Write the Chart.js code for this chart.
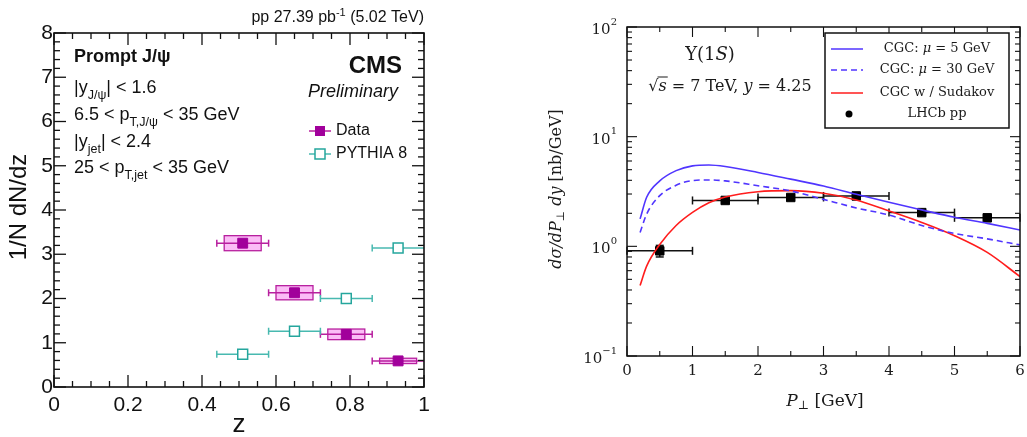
<!DOCTYPE html>
<html><head><meta charset="utf-8">
<script src="https://cdn.jsdelivr.net/npm/chart.js@4.4.1/dist/chart.umd.min.js"></script>
<style>
body{margin:0;background:#fff;width:1027px;height:437px;position:relative;overflow:hidden}
canvas{position:absolute;top:0}
#left{left:0}
#right{left:540px}
</style></head><body>
<canvas id="left" width="440" height="437"></canvas>
<canvas id="right" width="487" height="437"></canvas>
<script>
// left panel: prompt J/psi fragmentation
var zCenters = [0.51, 0.65, 0.79, 0.93];
var zLow = [0.44, 0.58, 0.72, 0.86];
var zHigh = [0.58, 0.72, 0.86, 1.0];
var dataVals = [3.25, 2.13, 1.19, 0.59];
var dataSys = [0.17, 0.16, 0.12, 0.06];
var sysHalfWidth = 0.05;
var pythiaVals = [0.74, 1.26, 2.0, 3.14];
var zTicks = [0, 0.2, 0.4, 0.6, 0.8, 1];

// right panel: Upsilon(1S) CGC vs LHCb
var ptCurve = [0.2, 0.3, 0.5, 0.75, 1, 1.25, 1.5, 2, 2.5, 3, 3.5, 4, 4.5, 5, 5.5, 6];
var cgc5 = [1.78, 2.8, 3.95, 4.9, 5.42, 5.52, 5.35, 4.72, 4.1, 3.55, 2.98, 2.52, 2.15, 1.84, 1.62, 1.41];
var cgc30 = [1.34, 1.97, 2.9, 3.6, 3.98, 4.03, 3.95, 3.57, 3.2, 2.68, 2.24, 1.93, 1.55, 1.31, 1.17, 1.03];
var sudakov = [0.44, 0.66, 1.04, 1.55, 2.04, 2.5, 2.82, 3.15, 3.22, 3.05, 2.65, 2.1, 1.65, 1.25, 0.88, 0.53];
var lhcbPt = [0.5, 1.5, 2.5, 3.5, 4.5, 5.5];
var lhcbLow = [0, 1, 2, 3, 4, 5];
var lhcbHigh = [1, 2, 3, 4, 5, 6];
var lhcbVals = [0.91, 2.62, 2.79, 2.88, 2.03, 1.82];
var lhcbErr = [0.11, 0.1, 0.1, 0.1, 0.1, 0.08];
var decades = [0.1, 1, 10, 100];
var decadeExp = ['\u22121', '0', '1', '2'];

var MAG = '#a1009b', MAGLINE = '#b8209f', MAGFILL = '#fbbdf6', TEAL = '#25a69d', TEALLINE = '#48b9b0';
var BLUE = '#5035ff', RED = '#ff1c1c';
var SANS = "'Liberation Sans', Arial, sans-serif";
var SERIF = "'DejaVu Serif', serif";

Chart.defaults.animation = false;

function runs(ctx, x, y, parts, align) {
  var w = 0;
  parts.forEach(function (p) { ctx.font = p[1]; w += ctx.measureText(p[0]).width; });
  var cx = align == 'right' ? x - w : (align == 'center' ? x - w / 2 : x);
  ctx.textAlign = 'left';
  parts.forEach(function (p) {
    ctx.font = p[1];
    ctx.fillText(p[0], cx, y + (p[2] || 0));
    cx += ctx.measureText(p[0]).width;
  });
  return w;
}

function line(ctx, x1, y1, x2, y2) {
  ctx.beginPath(); ctx.moveTo(x1, y1); ctx.lineTo(x2, y2); ctx.stroke();
}

function innerTicks(chart, xs, ys, len) {
  var ctx = chart.ctx, a = chart.chartArea, sx = chart.scales.x, sy = chart.scales.y;
  xs.forEach(function (t) {
    var p = sx.getPixelForValue(t[0]);
    line(ctx, p, a.bottom, p, a.bottom - len[t[1]]);
    line(ctx, p, a.top, p, a.top + len[t[1]]);
  });
  ys.forEach(function (t) {
    var p = sy.getPixelForValue(t[0]);
    line(ctx, a.left, p, a.left + len[t[1]], p);
    line(ctx, a.right, p, a.right - len[t[1]], p);
  });
}

// ---------------- left chart ----------------
var leftDecor = {
  id: 'leftDecor',
  beforeDatasetsDraw: function (chart) {
    var ctx = chart.ctx, sx = chart.scales.x, sy = chart.scales.y, a = chart.chartArea;
    ctx.save();
    ctx.beginPath(); ctx.rect(a.left, a.top, a.right - a.left, a.bottom - a.top); ctx.clip();
    // systematic boxes
    for (var i = 0; i < zCenters.length; i++) {
      var x1 = sx.getPixelForValue(zCenters[i] - sysHalfWidth), x2 = sx.getPixelForValue(zCenters[i] + sysHalfWidth);
      var y1 = sy.getPixelForValue(dataVals[i] + dataSys[i]), y2 = sy.getPixelForValue(dataVals[i] - dataSys[i]);
      ctx.fillStyle = MAGFILL; ctx.fillRect(x1, y1, x2 - x1, y2 - y1);
      ctx.strokeStyle = MAGLINE; ctx.lineWidth = 1.3; ctx.strokeRect(x1, y1, x2 - x1, y2 - y1);
    }
    // horizontal bin bars
    function bars(vals, col) {
      ctx.strokeStyle = col; ctx.lineWidth = 1.5;
      for (var i = 0; i < vals.length; i++) {
        var xl = sx.getPixelForValue(zLow[i]), xh = sx.getPixelForValue(zHigh[i]), py = sy.getPixelForValue(vals[i]);
        line(ctx, xl, py, xh, py);
        line(ctx, xl, py - 3.5, xl, py + 3.5);
        if (zHigh[i] < 1) line(ctx, xh, py - 3.5, xh, py + 3.5);
      }
    }
    bars(dataVals, MAGLINE);
    bars(pythiaVals, TEALLINE);
    ctx.restore();
  },
  afterDraw: function (chart) {
    var ctx = chart.ctx, a = chart.chartArea;
    ctx.save();
    ctx.strokeStyle = '#111'; ctx.lineWidth = 1.6;
    ctx.strokeRect(a.left, a.top, a.right - a.left, a.bottom - a.top);
    var xs = [], ys = [];
    for (var i = 0; i <= 20; i++) xs.push([i * 0.05, i % 4 == 0 ? 0 : 1]);
    for (var j = 0; j <= 40; j++) ys.push([j * 0.2, j % 5 == 0 ? 0 : 1]);
    ctx.lineWidth = 1.3;
    innerTicks(chart, xs, ys, [12, 6]);

    ctx.fillStyle = '#111'; ctx.textBaseline = 'alphabetic';
    var f = '18px ' + SANS, s = '12.5px ' + SANS;
    runs(ctx, 424, 22, [['pp 27.39 pb', '16px ' + SANS], ['-1', '11px ' + SANS, -6], [' (5.02 TeV)', '16px ' + SANS]], 'right');
    runs(ctx, 74, 62, [['Prompt J/\u03c8', 'bold 18px ' + SANS]], 'left');
    runs(ctx, 74, 93, [['|y', f], ['J/\u03c8', s, 6], ['| < 1.6', f]], 'left');
    runs(ctx, 74, 120, [['6.5 < p', f], ['T,J/\u03c8', s, 6], [' < 35 GeV', f]], 'left');
    runs(ctx, 74, 147, [['|y', f], ['jet', s, 6], ['| < 2.4', f]], 'left');
    runs(ctx, 74, 173, [['25 < p', f], ['T,jet', s, 6], [' < 35 GeV', f]], 'left');
    runs(ctx, 402, 73, [['CMS', 'bold 24px ' + SANS]], 'right');
    runs(ctx, 398, 97, [['Preliminary', 'italic 18px ' + SANS]], 'right');

    // legend
    ctx.lineWidth = 1.5;
    ctx.strokeStyle = MAGLINE; line(ctx, 309, 131, 331, 131);
    ctx.fillStyle = MAG; ctx.fillRect(315, 126, 10, 10);
    ctx.strokeStyle = TEALLINE; line(ctx, 309, 154, 331, 154);
    ctx.fillStyle = '#fff'; ctx.fillRect(315, 149, 10, 10);
    ctx.strokeStyle = TEAL; ctx.strokeRect(315, 149, 10, 10);
    ctx.fillStyle = '#111'; ctx.textBaseline = 'middle';
    runs(ctx, 336, 131, [['Data', '16px ' + SANS]], 'left');
    runs(ctx, 336, 154, [['PYTHIA 8', '16px ' + SANS]], 'left');

    // axis titles
    runs(ctx, 239, 425, [['z', '26px ' + SANS]], 'center');
    ctx.translate(19, 207); ctx.rotate(-Math.PI / 2);
    runs(ctx, 0, 0, [['1/N dN/dz', '24px ' + SANS]], 'center');
    ctx.restore();
  }
};

new Chart(document.getElementById('left'), {
  type: 'scatter',
  data: {
    datasets: [{
      label: 'Data',
      data: zCenters.map(function (z, i) { return {x: z, y: dataVals[i]}; }),
      pointStyle: 'rect', pointRadius: 7, backgroundColor: MAG, borderColor: MAG, borderWidth: 1
    }, {
      label: 'PYTHIA 8',
      data: zCenters.map(function (z, i) { return {x: z, y: pythiaVals[i]}; }),
      pointStyle: 'rect', pointRadius: 7, backgroundColor: '#fff', borderColor: TEAL, borderWidth: 1.5
    }]
  },
  options: {
    responsive: false, devicePixelRatio: 1,
    layout: {padding: {top: 33, right: 16, left: 0, bottom: 0}},
    plugins: {legend: {display: false}, tooltip: {enabled: false}},
    scales: {
      x: {
        type: 'linear', min: 0, max: 1,
        afterBuildTicks: function (s) { s.ticks = zTicks.map(function (v) { return {value: v}; }); },
        ticks: {font: {family: SANS, size: 21}, color: '#111', padding: 6, maxRotation: 0,
          callback: function (v) { return String(+v.toFixed(1)); }},
        grid: {display: false, drawTicks: false}, border: {display: false},
        afterFit: function (s) { s.height = 50; s.paddingLeft = 0; s.paddingRight = 0; }
      },
      y: {
        min: 0, max: 8,
        ticks: {stepSize: 1, font: {family: SANS, size: 21}, color: '#111', padding: 1},
        grid: {display: false, drawTicks: false}, border: {display: false},
        afterFit: function (s) { s.width = 54; s.paddingTop = 0; s.paddingBottom = 0; }
      }
    }
  },
  plugins: [leftDecor]
});

// ---------------- right chart ----------------
var rightDecor = {
  id: 'rightDecor',
  beforeDatasetsDraw: function (chart) {
    var ctx = chart.ctx, sx = chart.scales.x, sy = chart.scales.y;
    ctx.save();
    ctx.strokeStyle = '#111'; ctx.lineWidth = 1.5;
    for (var i = 0; i < lhcbPt.length; i++) {
      var xl = sx.getPixelForValue(lhcbLow[i]), xh = sx.getPixelForValue(lhcbHigh[i]);
      var px = sx.getPixelForValue(lhcbPt[i]), py = sy.getPixelForValue(lhcbVals[i]);
      line(ctx, xl, py, xh, py);
      line(ctx, xl, py - 4, xl, py + 4);
      line(ctx, xh, py - 4, xh, py + 4);
      var yt = sy.getPixelForValue(lhcbVals[i] + lhcbErr[i]), yb = sy.getPixelForValue(lhcbVals[i] - lhcbErr[i]);
      line(ctx, px, yt, px, yb);
      line(ctx, px - 4, yt, px + 4, yt);
      line(ctx, px - 4, yb, px + 4, yb);
    }
    ctx.restore();
  },
  afterDraw: function (chart) {
    var ctx = chart.ctx, a = chart.chartArea, sy = chart.scales.y;
    ctx.save();
    ctx.strokeStyle = '#111'; ctx.lineWidth = 1.5;
    ctx.strokeRect(a.left, a.top, a.right - a.left, a.bottom - a.top);
    var xs = [], ys = [];
    for (var i = 0; i <= 12; i++) xs.push([i * 0.5, i % 2 == 0 ? 0 : 1]);
    decades.forEach(function (d, k) {
      ys.push([d, 0]);
      if (k < decades.length - 1) for (var m = 2; m <= 9; m++) ys.push([d * m, 1]);
    });
    ctx.lineWidth = 1.1;
    innerTicks(chart, xs, ys, [10, 5]);

    // y tick labels with exponents
    ctx.fillStyle = '#1a1a1a'; ctx.textBaseline = 'middle';
    decades.forEach(function (d, k) {
      var py = sy.getPixelForValue(d);
      runs(ctx, a.left - 10, py + 3, [['10', '15px ' + SERIF], [decadeExp[k], '10px ' + SERIF, -8]], 'right');
    });

    // legend box
    ctx.fillStyle = '#fff'; ctx.fillRect(285, 33, 184, 95);
    ctx.strokeStyle = '#111'; ctx.lineWidth = 1.5; ctx.strokeRect(285, 33, 184, 95);
    ctx.lineWidth = 1.5;
    ctx.strokeStyle = BLUE; line(ctx, 291, 49, 323, 49);
    ctx.setLineDash([6, 4]); line(ctx, 291, 70, 323, 70); ctx.setLineDash([]);
    ctx.strokeStyle = RED; line(ctx, 291, 93, 323, 93);
    ctx.fillStyle = '#000'; ctx.beginPath(); ctx.arc(309, 114, 3.5, 0, Math.PI * 2); ctx.fill();
    var n = '13px ' + SERIF, it = 'italic 13px ' + SERIF;
    ctx.fillStyle = '#1a1a1a';
    runs(ctx, 397, 49, [['CGC: ', n], ['\u03bc', it], [' = 5 GeV', n]], 'center');
    runs(ctx, 397, 70, [['CGC: ', n], ['\u03bc', it], [' = 30 GeV', n]], 'center');
    runs(ctx, 397, 93, [['CGC w / Sudakov', n]], 'center');
    runs(ctx, 397, 114, [['LHCb pp', n]], 'center');

    // annotations
    runs(ctx, 170, 55, [['\u03a5(1', '18px ' + SERIF], ['S', 'italic 18px ' + SERIF], [')', '18px ' + SERIF]], 'center');
    var f = '16px ' + SERIF, fi = 'italic 16px ' + SERIF;
    var x0 = 190 - runs(ctx, -1000, -1000, [['\u221a', f], ['s', fi], [' = 7 TeV, ', f], ['y', fi], [' = 4.25', f]], 'left') / 2;
    runs(ctx, x0, 87, [['\u221a', f], ['s', fi], [' = 7 TeV, ', f], ['y', fi], [' = 4.25', f]], 'left');
    ctx.font = f;
    var rw = ctx.measureText('\u221a').width;
    ctx.font = fi;
    ctx.lineWidth = 1; ctx.strokeStyle = '#1a1a1a';
    line(ctx, x0 + rw - 1, 77, x0 + rw + ctx.measureText('s').width + 1, 77);

    // axis titles
    runs(ctx, 285, 402, [['P', 'italic 17px ' + SERIF], ['\u22a5', '12px ' + SERIF, 4], [' [GeV]', '17px ' + SERIF]], 'center');
    ctx.translate(17, 189); ctx.rotate(-Math.PI / 2);
    runs(ctx, 0, 0, [['d\u03c3/dP', 'italic 16px ' + SERIF], ['\u22a5', '11px ' + SERIF, 4], [' dy', 'italic 16px ' + SERIF], [' [nb/GeV]', '16px ' + SERIF]], 'center');
    ctx.restore();
  }
};

function curve(label, vals, col, dash) {
  return {
    label: label,
    data: ptCurve.map(function (p, i) { return {x: p, y: vals[i]}; }),
    showLine: true, pointRadius: 0, borderColor: col, borderWidth: 1.6, borderDash: dash,
    cubicInterpolationMode: 'monotone', fill: false
  };
}

new Chart(document.getElementById('right'), {
  type: 'scatter',
  data: {
    datasets: [
      curve('CGC: \u03bc = 5 GeV', cgc5, BLUE, []),
      curve('CGC: \u03bc = 30 GeV', cgc30, BLUE, [6, 4]),
      curve('CGC w / Sudakov', sudakov, RED, []),
      {
        label: 'LHCb pp',
        data: lhcbPt.map(function (p, i) { return {x: p, y: lhcbVals[i]}; }),
        pointStyle: 'rect', pointRadius: 6, backgroundColor: '#000', borderColor: '#000', borderWidth: 1
      }
    ]
  },
  options: {
    responsive: false, devicePixelRatio: 1,
    layout: {padding: {top: 27, right: 4, left: 0, bottom: 0}},
    plugins: {legend: {display: false}, tooltip: {enabled: false}},
    scales: {
      x: {
        type: 'linear', min: 0, max: 6,
        ticks: {stepSize: 1, font: {family: SERIF, size: 15}, color: '#1a1a1a', padding: 6, maxRotation: 0, autoSkip: false},
        grid: {display: false, drawTicks: false}, border: {display: false},
        afterFit: function (s) { s.height = 81; s.paddingLeft = 0; s.paddingRight = 0; }
      },
      y: {
        type: 'logarithmic', min: 0.1, max: 100,
        afterBuildTicks: function (s) { s.ticks = decades.map(function (v) { return {value: v}; }); },
        ticks: {display: false},
        grid: {display: false, drawTicks: false}, border: {display: false},
        afterFit: function (s) { s.width = 87; s.paddingTop = 0; s.paddingBottom = 0; }
      }
    }
  },
  plugins: [rightDecor]
});
</script>
</body></html>
